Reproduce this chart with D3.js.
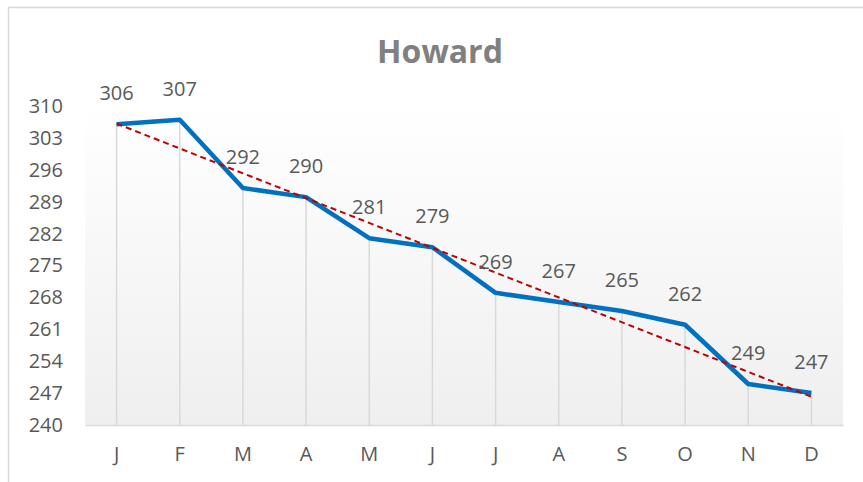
<!DOCTYPE html>
<html>
<head>
<meta charset="utf-8">
<script src="https://cdn.jsdelivr.net/npm/d3@7"></script>
<style>
  body { margin: 0; background: #fff; }
  text { font-family: "Open Sans", sans-serif; }
</style>
</head>
<body>
<svg class="chart" width="863" height="482"></svg>
<script>
// chart data
var months = ["J", "F", "M", "A", "M", "J", "J", "A", "S", "O", "N", "D"];
var values = [306, 307, 292, 290, 281, 279, 269, 267, 265, 262, 249, 247];
var yTicks = [240, 247, 254, 261, 268, 275, 282, 289, 296, 303, 310];
var title = "Howard";

var svg = d3.select("svg.chart"),
    width = +svg.attr("width"),
    height = +svg.attr("height");

var plot = {left: 85, right: 843, top: 106, bottom: 425};

// chart frame (only top and left edges visible)
svg.append("path")
  .attr("d", "M8.5," + height + "V7.5H" + width)
  .attr("fill", "none")
  .attr("stroke", "#d9d9d9")
  .attr("stroke-width", 1.5);

var defs = svg.append("defs");
var grad = defs.append("linearGradient")
  .attr("id", "bg")
  .attr("x1", 0).attr("y1", 0).attr("x2", 0).attr("y2", 1);
grad.append("stop").attr("offset", "0%").attr("stop-color", "#ffffff");
grad.append("stop").attr("offset", "100%").attr("stop-color", "#efefef");

svg.append("rect")
  .attr("x", plot.left)
  .attr("y", plot.top)
  .attr("width", plot.right - plot.left)
  .attr("height", plot.bottom - plot.top)
  .attr("fill", "url(#bg)");

var x = d3.scaleBand()
  .domain(d3.range(months.length))
  .range([plot.left, plot.right]);

var y = d3.scaleLinear()
  .domain([240, 310])
  .range([plot.bottom, plot.top]);

function cx(i) { return x(i) + x.bandwidth() / 2; }

// title
svg.append("text")
  .attr("x", 440)
  .attr("y", 63)
  .attr("text-anchor", "middle")
  .attr("font-size", 32)
  .attr("font-weight", "bold")
  .attr("fill", "#808080")
  .text(title);

// drop lines
svg.append("g")
  .selectAll("line")
  .data(values)
  .enter().append("line")
    .attr("x1", function(d, i) { return cx(i); })
    .attr("x2", function(d, i) { return cx(i); })
    .attr("y1", function(d) { return y(d); })
    .attr("y2", plot.bottom)
    .attr("stroke", "#d9d9d9")
    .attr("stroke-width", 1.5);

// x axis
var xAxis = svg.append("g")
  .attr("transform", "translate(0," + plot.bottom + ")")
  .call(d3.axisBottom(x).tickSize(0).tickPadding(22).tickFormat(function(i) { return months[i]; }));
xAxis.select(".domain").attr("stroke", "#d9d9d9").attr("stroke-width", 1.5);
xAxis.selectAll("text")
  .attr("font-size", 20)
  .attr("fill", "#595959")
  .attr("font-family", "Open Sans, sans-serif");

// y axis (labels only)
var yAxis = svg.append("g")
  .attr("transform", "translate(" + plot.left + ",0)")
  .call(d3.axisLeft(y).tickValues(yTicks).tickSize(0).tickPadding(22));
yAxis.select(".domain").remove();
yAxis.selectAll("text")
  .attr("font-size", 20)
  .attr("fill", "#595959")
  .attr("font-family", "Open Sans, sans-serif");

// main line
var line = d3.line()
  .x(function(d, i) { return cx(i); })
  .y(function(d) { return y(d); });

svg.append("path")
  .datum(values)
  .attr("fill", "none")
  .attr("stroke", "#0070c0")
  .attr("stroke-width", 4.5)
  .attr("stroke-linejoin", "round")
  .attr("d", line);

// linear trendline
var n = values.length,
    xs = d3.range(1, n + 1),
    mx = d3.mean(xs),
    my = d3.mean(values);
var slope = d3.sum(xs, function(v, i) { return (v - mx) * (values[i] - my); }) /
            d3.sum(xs, function(v) { return (v - mx) * (v - mx); });
var icpt = my - slope * mx;

svg.append("line")
  .attr("x1", cx(0))
  .attr("y1", y(icpt + slope * 1))
  .attr("x2", cx(n - 1))
  .attr("y2", y(icpt + slope * n))
  .attr("stroke", "#c00000")
  .attr("stroke-width", 2)
  .attr("stroke-dasharray", "6,4");

// data labels
svg.append("g")
  .selectAll("text")
  .data(values)
  .enter().append("text")
    .attr("x", function(d, i) { return cx(i); })
    .attr("y", function(d) { return y(d) - 24; })
    .attr("text-anchor", "middle")
    .attr("font-size", 20)
    .attr("fill", "#595959")
    .text(function(d) { return d; });
</script>
</body>
</html>
